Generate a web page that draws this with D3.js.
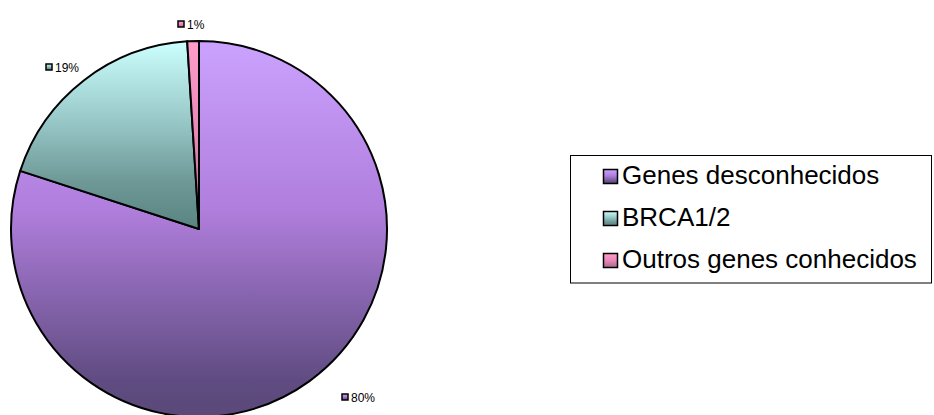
<!DOCTYPE html>
<html>
<head>
<meta charset="utf-8">
<script src="https://cdn.jsdelivr.net/npm/d3@7/dist/d3.min.js"></script>
<style>
  html, body { margin: 0; padding: 0; background: #fff; }
  svg { display: block; font-family: "Liberation Sans", Arial, sans-serif; }
</style>
</head>
<body>
<svg id="chart" width="934" height="415"></svg>
<script>
// Share of hereditary breast cancer by gene group
const categories = ["Genes desconhecidos", "BRCA1/2", "Outros genes conhecidos"];
const values = [80, 19, 1];
const valueLabels = ["80%", "19%", "1%"];
// gradient stops per slice, light at the top to dark at the bottom
const gradientStops = [
  [[0, "#cba2ff"], [0.45, "#b07edc"], [0.9, "#604c82"], [1, "#5a4878"]],
  [[0, "#ccffff"], [0.45, "#95c4c4"], [0.75, "#6d9896"], [1, "#5a8480"]],
  [[0, "#ff9ccc"], [0.5, "#e888b8"], [1, "#b06890"]]
];

const svg = d3.select("#chart");
const cx = 199, cy = 229, r = 188;

const defs = svg.append("defs");
gradientStops.forEach((stops, i) => {
  const g = defs.append("linearGradient")
    .attr("id", "grad" + i)
    .attr("x1", 0).attr("x2", 0).attr("y1", 0).attr("y2", 1);
  stops.forEach(([o, c]) => g.append("stop").attr("offset", o).attr("stop-color", c));
});

const pie = d3.pie().sort(null).value(d => d)(values);
const arc = d3.arc().innerRadius(0).outerRadius(r);

const gPie = svg.append("g").attr("transform", `translate(${cx},${cy})`);
gPie.selectAll("path")
  .data(pie)
  .join("path")
  .attr("d", arc)
  .attr("fill", (d, i) => `url(#grad${i})`)
  .attr("stroke", "#000")
  .attr("stroke-width", 2)
  .attr("stroke-linejoin", "round");

// Value labels with small key markers
const labelPos = [[351, 402], [55, 72], [187, 29]];
pie.forEach((d, i) => {
  const [lx, ly] = labelPos[i];
  svg.append("rect")
    .attr("x", lx - 9).attr("y", ly - 8)
    .attr("width", 6).attr("height", 6)
    .attr("fill", `url(#grad${i})`)
    .attr("stroke", "#000").attr("stroke-width", 1.5);
  svg.append("text")
    .attr("x", lx).attr("y", ly)
    .attr("font-size", 12)
    .attr("fill", "#000")
    .text(valueLabels[i]);
});

// Legend
const legend = svg.append("g");
legend.append("rect")
  .attr("x", 570.5).attr("y", 155.5)
  .attr("width", 361).attr("height", 127.5)
  .attr("fill", "#fff")
  .attr("stroke", "#000").attr("stroke-width", 1);

const ly = d3.scalePoint().domain(categories).range([184, 268]);
categories.forEach((c, i) => {
  const y = ly(c);
  legend.append("rect")
    .attr("x", 603.5).attr("y", y - 14.5)
    .attr("width", 14).attr("height", 14)
    .attr("fill", `url(#grad${i})`)
    .attr("stroke", "#000").attr("stroke-width", 1.5);
  legend.append("text")
    .attr("x", 622).attr("y", y)
    .attr("font-size", 26)
    .attr("fill", "#000")
    .text(c);
});
</script>
</body>
</html>
